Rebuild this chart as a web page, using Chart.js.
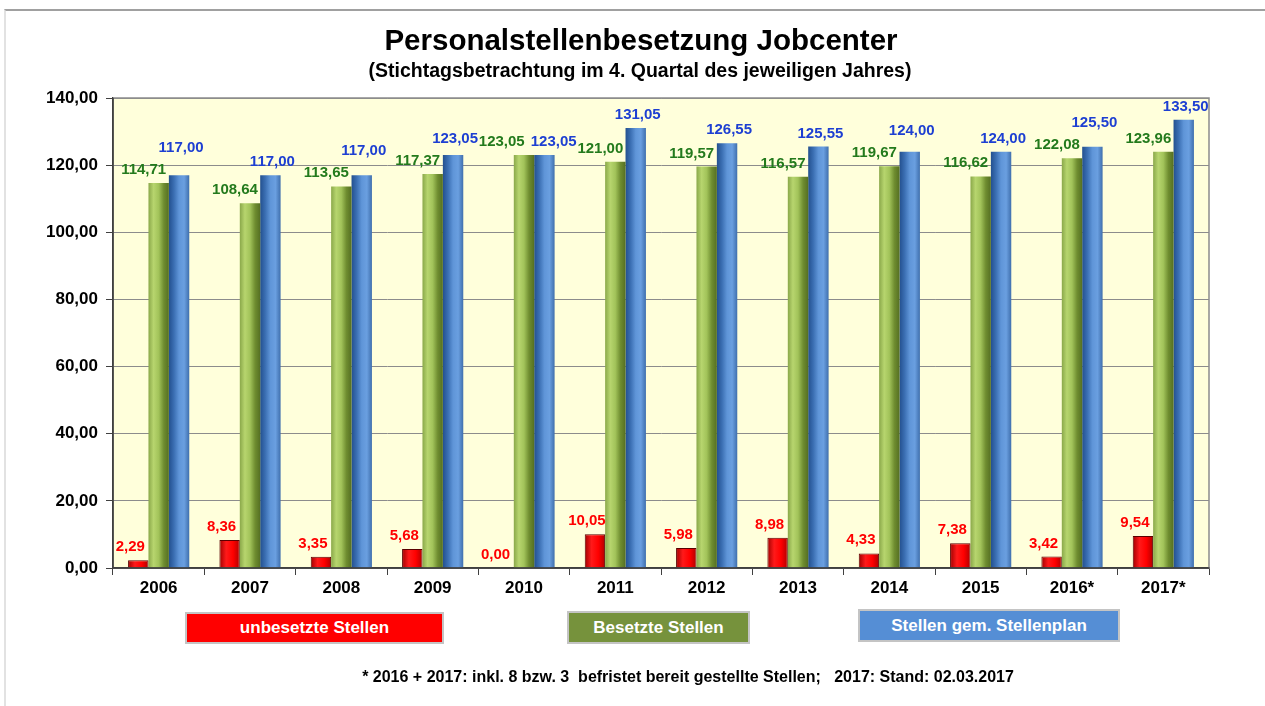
<!DOCTYPE html>
<html>
<head>
<meta charset="utf-8">
<script src="https://cdn.jsdelivr.net/npm/chart.js@4/dist/chart.umd.min.js"></script>
<style>
  html, body { margin:0; padding:0; background:#fff; }
  #wrap { position:relative; width:1265px; height:706px; overflow:hidden; background:#fff; }
  #frame { position:absolute; left:4px; top:9px; right:-2px; bottom:-2px; border-top:2px solid #a0a0a0; border-left:2px solid #e2e2e2; }
  canvas { position:absolute; left:0; top:0; }
  .t1 { position:absolute; left:0; width:1282px; top:23px; text-align:center; font:bold 29.5px "Liberation Sans", Arial, sans-serif; color:#000; }
  .t2 { position:absolute; left:0; width:1280px; top:59px; text-align:center; font:bold 19.5px "Liberation Sans", Arial, sans-serif; color:#000; }
  .lg { position:absolute; box-sizing:border-box; border:2px solid #c4c4c4; color:#fff; font:bold 17px "Liberation Sans Narrow", "Liberation Sans", sans-serif; text-align:center; display:flex; align-items:center; justify-content:center; }
  .fn { position:absolute; left:0; width:1376px; top:668px; text-align:center; font:bold 16px "Liberation Sans Narrow", "Liberation Sans", sans-serif; color:#000; white-space:pre; }
</style>
</head>
<body>
<div id="wrap">
  <div id="frame"></div>
  <canvas id="c" width="1265" height="706"></canvas>
  <div class="t1">Personalstellenbesetzung Jobcenter</div>
  <div class="t2">(Stichtagsbetrachtung im 4. Quartal des jeweiligen Jahres)</div>
  <div class="lg" style="left:185px;top:612px;width:259px;height:32px;background:#ff0000;">unbesetzte Stellen</div>
  <div class="lg" style="left:567px;top:611px;width:183px;height:33px;background:#76923c;">Besetzte Stellen</div>
  <div class="lg" style="left:858px;top:609px;width:262px;height:33px;background:#558ed5;">Stellen gem. Stellenplan</div>
  <div class="fn">* 2016 + 2017: inkl. 8 bzw. 3  befristet bereit gestellte Stellen;   2017: Stand: 02.03.2017</div>
</div>
<script>
const years = ["2006","2007","2008","2009","2010","2011","2012","2013","2014","2015","2016*","2017*"];
const unbesetzt = [2.29, 8.36, 3.35, 5.68, 0.00, 10.05, 5.98, 8.98, 4.33, 7.38, 3.42, 9.54];
const besetzt = [114.71, 108.64, 113.65, 117.37, 123.05, 121.00, 119.57, 116.57, 119.67, 116.62, 122.08, 123.96];
const stellenplan = [117.00, 117.00, 117.00, 123.05, 123.05, 131.05, 126.55, 125.55, 124.00, 124.00, 125.50, 133.50];
const seriesNames = ["unbesetzte Stellen", "Besetzte Stellen", "Stellen gem. Stellenplan"];
const yTicks = [0, 20, 40, 60, 80, 100, 120, 140];

const CAT_PCT = 0.67;
const fmt = v => v.toFixed(2).replace('.', ',');

function grad(stops, dsIndex) {
  return (c) => {
    const chart = c.chart;
    const xs = chart.scales && chart.scales.x;
    if (!xs || !chart.chartArea || c.dataIndex === undefined || !xs.width) return stops[Math.floor(stops.length/2)];
    const cat = xs.width / years.length;
    const slot = cat * CAT_PCT / 3;
    const cx = xs.getPixelForValue(c.dataIndex) + (dsIndex - 1) * slot;
    const g = chart.ctx.createLinearGradient(cx - slot/2, 0, cx + slot/2, 0);
    stops.forEach((s, i) => g.addColorStop(i / (stops.length - 1), s));
    return g;
  };
}

const bgPlugin = {
  id: 'bg',
  beforeDraw(chart) {
    const {ctx, chartArea: a} = chart;
    ctx.save();
    ctx.fillStyle = '#ffffdb';
    ctx.fillRect(a.left, a.top, a.right - a.left, a.bottom - a.top);
    ctx.restore();
  },
  afterDraw(chart) {
    const {ctx, chartArea: a} = chart;
    ctx.save();
    ctx.strokeStyle = '#8c8c8c';
    ctx.lineWidth = 1.5;
    ctx.beginPath();
    ctx.moveTo(a.left, a.top); ctx.lineTo(a.right, a.top); ctx.lineTo(a.right, a.bottom);
    ctx.stroke();
    ctx.strokeStyle = '#404040';
    ctx.beginPath();
    ctx.moveTo(a.left, a.top); ctx.lineTo(a.left, a.bottom); ctx.lineTo(a.right, a.bottom);
    ctx.stroke();
    ctx.restore();
  }
};

const labelCfg = [
  {color:'#ff0000', dx:-8},
  {color:'#237a1c', dx:-15},
  {color:'#1d3fd2', dx:2}
];
const LH = 15;   // label box height
const labelPlugin = {
  id: 'vlabels',
  afterDatasetsDraw(chart) {
    const ctx = chart.ctx;
    ctx.save();
    ctx.font = 'bold 15px "Liberation Sans", Arial, sans-serif';
    ctx.textAlign = 'center';
    ctx.textBaseline = 'alphabetic';
    const metas = chart.data.datasets.map((ds, di) => chart.getDatasetMeta(di));
    const n = years.length;
    for (let i = 0; i < n; i++) {
      const boxes = chart.data.datasets.map((ds, di) => {
        const el = metas[di].data[i];
        const txt = fmt(ds.data[i]);
        const w = ctx.measureText(txt).width;
        return { txt, w, x: el.x + labelCfg[di].dx, base: el.y - 9, color: labelCfg[di].color };
      });
      // resolve green / blue label collisions
      const g = boxes[1], b = boxes[2];
      const hOverlap = (g.x + g.w/2 + 2) - (b.x - b.w/2);
      const vOverlap = Math.abs(g.base - b.base) < LH + 7;
      if (hOverlap > 0 && vOverlap) {
        if (Math.abs(g.base - b.base) < 4) {
          g.x -= hOverlap / 2 + 2;
          b.x += hOverlap / 2 + 2;
        } else {
          b.base = Math.min(b.base, g.base - LH - 7);
        }
      }
      boxes.forEach(bx => {
        ctx.fillStyle = bx.color;
        ctx.fillText(bx.txt, bx.x, bx.base);
      });
    }
    ctx.restore();
  }
};

new Chart(document.getElementById('c'), {
  type: 'bar',
  data: {
    labels: years,
    datasets: [
      { label: seriesNames[0], data: unbesetzt,
        backgroundColor: grad(['#a00000', '#ff1a1a', '#ff0000', '#b00000'], 0),
        borderColor: '#5a0000', borderWidth: 1 },
      { label: seriesNames[1], data: besetzt,
        backgroundColor: grad(['#8aa84a', '#b7d56e', '#a2c35a', '#6f8d30', '#556f22'], 1),
        borderWidth: 0 },
      { label: seriesNames[2], data: stellenplan,
        backgroundColor: grad(['#23508f', '#3b6fb3', '#5f95d8', '#6a9fe0', '#3f6fad'], 2),
        borderWidth: 0 }
    ]
  },
  options: {
    responsive: false,
    animation: false,
    devicePixelRatio: 1,
    layout: { padding: { top: 98, left: 0, right: 56, bottom: 0 } },
    datasets: { bar: { categoryPercentage: CAT_PCT, barPercentage: 1.0 } },
    plugins: { legend: { display: false }, tooltip: { enabled: false }, title: { display: false } },
    scales: {
      x: {
        afterFit(s) { s.height = 706 - 568; },
        grid: { display: true, drawOnChartArea: false, drawTicks: true, tickLength: 7, color: '#404040', offset: true },
        border: { display: true, color: '#404040', width: 1.5 },
        ticks: { color: '#000', padding: 3, font: { family: '"Liberation Sans", Arial, sans-serif', size: 17, weight: 'bold' } }
      },
      y: {
        min: 0, max: 140,
        afterFit(s) { s.width = 113; },
        afterBuildTicks(s) { s.ticks = yTicks.map(v => ({ value: v })); },
        grid: { color: '#8c8c8c', lineWidth: 1, tickLength: 7, tickColor: '#404040' },
        border: { display: true, color: '#404040', width: 1.5 },
        ticks: { color: '#000', padding: 8, callback: v => fmt(v),
          font: { family: '"Liberation Sans", Arial, sans-serif', size: 17, weight: 'bold' } }
      }
    }
  },
  plugins: [bgPlugin, labelPlugin]
});
</script>
</body>
</html>
